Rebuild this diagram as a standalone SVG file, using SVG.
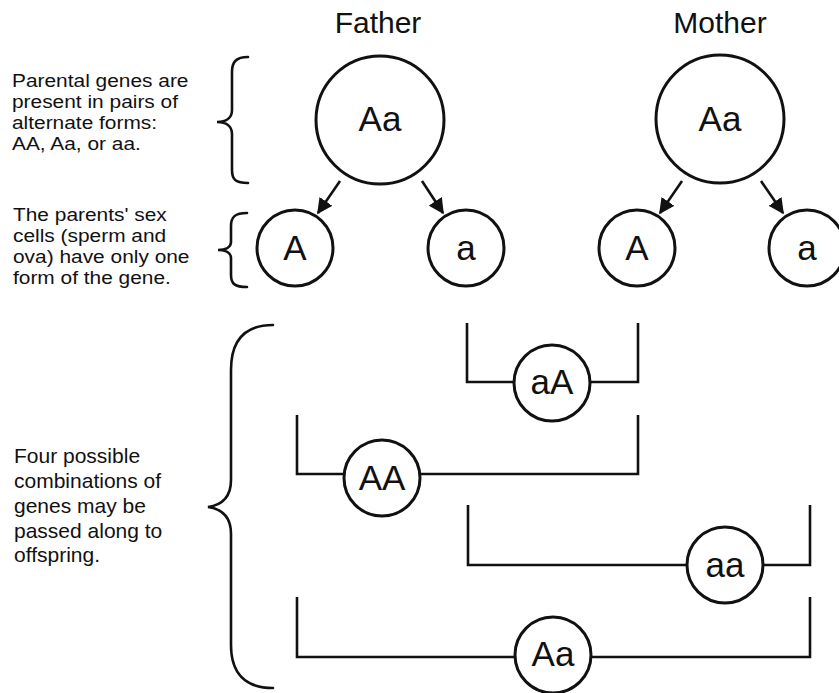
<svg xmlns="http://www.w3.org/2000/svg" width="839" height="693" viewBox="0 0 839 693">
<style>
.bg{fill:#ffffff}
.node circle{fill:#ffffff;stroke:#111;stroke-width:3}
.node text{font-family:"Liberation Sans",Arial,sans-serif;font-size:35px;fill:#111;text-anchor:middle}
.conn path,.conn line{fill:none;stroke:#111;stroke-width:2.6}
.arrow{fill:none;stroke:#111;stroke-width:2.6}
.brace{fill:none;stroke:#111;stroke-width:2.6;stroke-linecap:round}
.note{font-family:"Liberation Sans",Arial,sans-serif;font-size:21px;fill:#111}
.note-s{font-family:"Liberation Sans",Arial,sans-serif;font-size:18.5px;fill:#111}
.title{font-family:"Liberation Sans",Arial,sans-serif;font-size:30px;fill:#111;text-anchor:middle}
</style>
<defs>
<marker id="ah" viewBox="0 0 10 10" refX="9" refY="5" markerWidth="6" markerHeight="6" markerUnits="strokeWidth" orient="auto">
<path d="M0,0 L10,5 L0,10 Z" fill="#111"/>
</marker>
</defs>
<rect class="bg" x="0" y="0" width="839" height="693"/>

<g id="titles">
<text class="title" x="378" y="33">Father</text>
<text class="title" x="720" y="33">Mother</text>
</g>

<g id="notes">
<g transform="translate(12,0) scale(1.13,1)">
<text class="note-s" x="0" y="87">Parental genes are</text>
<text class="note-s" x="0" y="108">present in pairs of</text>
<text class="note-s" x="0" y="129">alternate forms:</text>
<text class="note-s" x="0" y="150">AA, Aa, or aa.</text>
</g>
<g transform="translate(13,0) scale(1.13,1)">
<text class="note-s" x="0" y="221">The parents' sex</text>
<text class="note-s" x="0" y="242">cells (sperm and</text>
<text class="note-s" x="0" y="263">ova) have only one</text>
<text class="note-s" x="0" y="284">form of the gene.</text>
</g>
<text class="note" x="14" y="463">Four possible</text>
<text class="note" x="14" y="488">combinations of</text>
<text class="note" x="14" y="513">genes may be</text>
<text class="note" x="14" y="538">passed along to</text>
<text class="note" x="14" y="562">offspring.</text>
</g>

<g id="braces">
<path class="brace" d="M248,57 C236,57 232,62 232,72 L232,110 C232,118 226,122 217,122 C226,122 232,126 232,134 L232,170 C232,180 236,183 248,183"/>
<path class="brace" d="M247,213 C235,213 231,217 231,226 L231,242 C231,247 226,250 218,250 C226,250 231,253 231,258 L231,275 C231,284 235,287 247,287"/>
<path class="brace" d="M273,325 C245,325 231,340 231,370 L231,480 C231,497 222,505 208,507 C222,509 231,517 231,534 L231,645 C231,673 245,688 273,688"/>
</g>

<g id="connectors" class="conn">
<line class="arrow" x1="340" y1="181" x2="318" y2="213" marker-end="url(#ah)"/>
<line class="arrow" x1="422" y1="181" x2="443" y2="213" marker-end="url(#ah)"/>
<line class="arrow" x1="682" y1="181" x2="660" y2="213" marker-end="url(#ah)"/>
<line class="arrow" x1="761" y1="181" x2="783" y2="213" marker-end="url(#ah)"/>
<path d="M467,323 L467,382 L514,382"/>
<path d="M590,382 L638,382 L638,323"/>
<path d="M297,415 L297,474 L344,474"/>
<path d="M420,474 L638,474 L638,415"/>
<path d="M468,505 L468,565 L687,565"/>
<path d="M763,565 L810,565 L810,505"/>
<path d="M297,597 L297,657 L515,657"/>
<path d="M591,657 L810,657 L810,597"/>
</g>

<g id="father" class="node"><circle cx="380" cy="120" r="64"/><text x="380" y="131">Aa</text></g>
<g id="mother" class="node"><circle cx="720" cy="119" r="64"/><text x="720" y="131">Aa</text></g>
<g id="father-A" class="node"><circle cx="295" cy="248" r="38"/><text x="295" y="260">A</text></g>
<g id="father-a" class="node"><circle cx="466" cy="248" r="38"/><text x="466" y="260">a</text></g>
<g id="mother-A" class="node"><circle cx="637" cy="248" r="38"/><text x="637" y="260">A</text></g>
<g id="mother-a" class="node"><circle cx="807" cy="248" r="38"/><text x="807" y="260">a</text></g>
<g id="child-aA" class="node"><circle cx="552" cy="383" r="38"/><text x="552" y="394">aA</text></g>
<g id="child-AA" class="node"><circle cx="382" cy="478" r="38"/><text x="382" y="490">AA</text></g>
<g id="child-aa" class="node"><circle cx="725" cy="565" r="38"/><text x="725" y="577">aa</text></g>
<g id="child-Aa" class="node"><circle cx="553" cy="655" r="38"/><text x="553" y="666">Aa</text></g>
</svg>
